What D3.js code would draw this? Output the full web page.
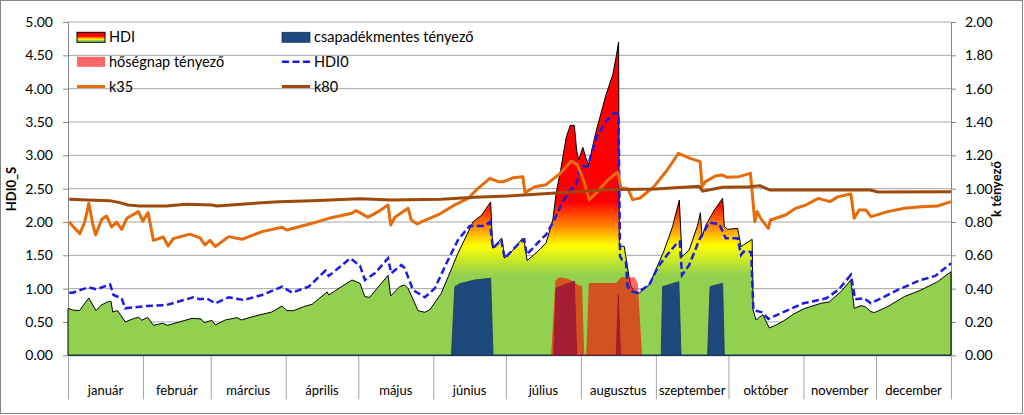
<!DOCTYPE html>
<html><head><meta charset="utf-8">
<script src="https://cdn.jsdelivr.net/npm/d3@7"></script>
<style>
html,body{margin:0;padding:0;background:#fff;}
svg{display:block;font-family:Lato,"Open Sans",sans-serif;}
</style></head><body>
<svg id="c" width="1024" height="415"></svg>
<script>
// ---------------- data ----------------
const monthNames = ["január","február","március","április","május","június","július","augusztus","szeptember","október","november","december"];
const monthStarts = [0,31,59,90,120,151,181,212,243,273,304,334,365];
const leftTicks = [0,0.5,1,1.5,2,2.5,3,3.5,4,4.5,5];
const rightTicks = [0,0.2,0.4,0.6,0.8,1.0,1.2,1.4,1.6,1.8,2.0];

// HDI (day of year, value)
const hdi = [[0.5,0.70],[1.9,0.68],[4.7,0.67],[8.6,0.86],[11.6,0.67],[13.6,0.75],[16.8,0.81],[17.8,0.81],[18.5,0.65],[20.5,0.67],[23.7,0.50],[27.4,0.555],[29.2,0.57],[30.6,0.525],[32.9,0.57],[35.3,0.45],[39.1,0.48],[41.2,0.45],[46,0.50],[51.3,0.555],[55,0.545],[56.3,0.49],[59.5,0.525],[60.9,0.455],[65,0.53],[69.9,0.565],[71.6,0.53],[77.4,0.59],[84.3,0.65],[88.5,0.74],[90.5,0.67],[93.3,0.67],[97.4,0.73],[100.9,0.765],[107.1,0.95],[107.8,0.905],[110.5,0.97],[117.4,1.13],[120.7,1.08],[122.7,0.88],[124.7,0.87],[132.3,1.20],[133.4,0.89],[137.1,1.03],[139.2,1.055],[140.6,1.00],[142.6,0.84],[144.7,0.67],[147.5,0.645],[149.5,0.68],[154.3,0.93],[161.2,1.53],[167.4,2.00],[170.9,2.10],[174.7,2.30],[175.6,1.605],[179.3,1.76],[180.5,1.46],[184,1.58],[188,1.76],[188.6,1.71],[189.8,1.42],[194.2,1.56],[197.6,1.685],[200.4,2.03],[201.7,2.41],[203.8,2.81],[205.9,3.26],[207.6,3.45],[209.3,3.45],[210.3,3.06],[211.1,2.93],[212.8,3.12],[214.1,2.96],[215.2,2.86],[218.3,3.36],[222.4,3.91],[225.2,4.21],[226.5,4.46],[227.6,4.70],[227.9,1.635],[229.9,1.635],[232,1.16],[232.7,1.035],[234.1,0.96],[236.2,0.935],[240.3,1.06],[243.9,1.36],[246.5,1.58],[249.9,1.93],[252.7,2.33],[253.8,1.48],[256.8,1.58],[260.3,1.955],[261.4,2.14],[262.1,1.78],[263.7,1.955],[267.2,2.18],[270.6,2.355],[271.3,1.93],[272.7,1.89],[276.8,1.905],[278.2,1.63],[279.2,1.655],[282.8,1.74],[283.2,0.68],[284.4,0.53],[287.2,0.61],[289.9,0.41],[292.7,0.455],[296,0.52],[300,0.62],[304.3,0.70],[311.2,0.78],[314.6,0.80],[319.5,0.955],[323.6,1.13],[325,0.705],[327.8,0.745],[329.5,0.73],[331.9,0.655],[333.3,0.64],[338.8,0.73],[345.7,0.88],[352.6,0.98],[359.5,1.105],[365,1.255]];

// HDI0 (day, value)
const hdi0 = [[0.5,0.94],[2,0.94],[8.5,1.02],[11.8,0.99],[17.4,1.065],[18.8,0.905],[22.2,0.855],[23.6,0.705],[32.5,0.74],[40.8,0.755],[51.8,0.87],[54.6,0.84],[57.3,0.855],[60.9,0.78],[66.4,0.87],[72.6,0.83],[80.2,0.905],[88.5,1.03],[92.6,0.94],[99.5,1.03],[106.4,1.27],[107.8,1.19],[116.7,1.455],[120.7,1.345],[122.7,1.13],[126.8,1.23],[132.3,1.455],[133.6,1.23],[137.8,1.355],[139.2,1.305],[142.6,0.98],[147.5,0.87],[151.6,1.005],[157.1,1.43],[161.2,1.73],[166,1.94],[172.1,1.94],[174.3,2.00],[175.7,1.605],[179.1,1.73],[180.5,1.455],[186.6,1.685],[188.6,1.735],[189.6,1.51],[194.8,1.71],[197.6,1.81],[201,2.03],[204.5,2.31],[207.9,2.485],[210,2.56],[212.1,2.835],[214.8,2.835],[218.3,3.26],[222.4,3.51],[225.8,3.635],[227.6,3.62],[228.2,1.485],[229,1.435],[230.6,1.41],[231.3,1.035],[232.7,0.96],[235.4,0.935],[240.3,1.06],[243.9,1.33],[247.1,1.48],[251.9,1.69],[252.9,1.705],[253.8,1.205],[256.8,1.355],[260.9,1.73],[265,1.99],[269.2,1.97],[271.9,1.755],[276.8,1.755],[278.2,1.505],[279.2,1.555],[282.4,1.55],[283.3,0.68],[286.8,0.645],[289.5,0.545],[292.7,0.6],[304,0.78],[313.4,0.855],[318.4,0.98],[323.6,1.205],[325.4,0.84],[329.1,0.855],[331.9,0.78],[343,0.98],[352,1.125],[358.5,1.19],[365,1.38]];

// k35 (day, value on right axis)
const k35 = [[0.5,0.80],[1.9,0.776],[4.9,0.73],[6.9,0.80],[8.6,0.912],[10.2,0.79],[11.4,0.722],[13.9,0.815],[15.9,0.836],[18,0.77],[20.1,0.80],[22.2,0.755],[24.3,0.822],[29.1,0.862],[30.9,0.805],[33.1,0.856],[35.3,0.69],[39.4,0.71],[41.4,0.656],[43.5,0.70],[50.4,0.727],[54.6,0.705],[56.6,0.662],[58.7,0.69],[60.9,0.652],[66.4,0.712],[71.9,0.696],[80.2,0.742],[88.5,0.768],[90.5,0.752],[100.9,0.792],[107.8,0.822],[117.4,0.852],[118.8,0.868],[120.7,0.856],[123.9,0.828],[128.2,0.862],[132.3,0.902],[133.4,0.782],[135.1,0.828],[140.6,0.882],[141.9,0.812],[144.4,0.788],[146,0.80],[152.9,0.842],[159.8,0.902],[165.4,0.942],[169.5,1.002],[174.4,1.062],[177.8,1.042],[180,1.042],[184.1,1.066],[188,1.072],[188.9,0.975],[193,1.012],[197.6,1.024],[203.2,1.088],[208,1.165],[210.5,1.144],[212.8,1.064],[215.5,0.934],[219.4,0.99],[223,1.05],[227.3,1.10],[228.5,1.005],[231.4,1.0],[233.4,0.934],[236.5,0.944],[242.2,1.012],[247.7,1.112],[252.3,1.212],[257.2,1.182],[261.3,1.162],[262.1,1.012],[263.5,1.042],[267.6,1.076],[270.4,1.082],[272.5,1.068],[277.3,1.072],[282.1,1.092],[283.9,0.802],[284.9,0.862],[286.3,0.822],[289.5,0.762],[290.4,0.812],[296.6,0.842],[300.8,0.882],[305,0.902],[310.2,0.942],[314.9,0.922],[318.4,0.952],[323.6,0.968],[325,0.822],[327,0.872],[329.8,0.872],[331.9,0.832],[338.8,0.862],[345.7,0.882],[352.6,0.892],[359.5,0.896],[365,0.922]];

// k80 (day, value on right axis)
const k80 = [[0.5,0.936],[8,0.932],[17.2,0.928],[21.4,0.916],[24.8,0.902],[29.6,0.896],[40.6,0.896],[48.9,0.906],[59.5,0.902],[61.5,0.896],[73.2,0.908],[87,0.922],[100.9,0.928],[120.7,0.94],[133.6,0.932],[154.3,0.936],[168.1,0.948],[181.9,0.956],[201.7,0.974],[222.4,0.994],[243,0.998],[260.9,1.014],[262.4,0.985],[270.6,1.008],[281.6,1.012],[286,1.018],[290,0.992],[315,0.992],[331.5,0.992],[335,0.98],[365,0.982]];

// csapadékmentes tényező (day, value)
const dry = [[0,0],[158.5,0],[159.9,1.03],[162,1.075],[168.1,1.13],[174.7,1.155],[175.7,0],[200.8,0],[201.7,1.01],[209.3,1.11],[210.3,0],[226.6,0],[227.5,0.91],[228.4,0],[245.2,0],[245.8,1.03],[252.5,1.105],[253.4,0],[264.4,0],[265.4,1.03],[270.6,1.08],[271.3,0],[365,0]];

// hőségnap tényező (day, value)
const heat = [[0,0],[199.7,0],[201.5,1.12],[203.1,1.17],[206.6,1.15],[208.7,1.11],[210.8,1.06],[212.5,1.035],[213.4,0],[214.2,0],[215.3,1.085],[226.6,1.085],[228.6,1.17],[234.1,1.17],[235.5,1.085],[237.3,0],[365,0]];

// ---------------- drawing ----------------
const svg = d3.select("#c");
const L = 68, R = 951, T = 22, B = 355.3;
const x = d3.scaleLinear().domain([0,365]).range([L,R]);
const yL = d3.scaleLinear().domain([0,5]).range([B,T]);
const yR = d3.scaleLinear().domain([0,2]).range([B,T]);
const fmt = d3.format(".2f");

svg.append("rect").attr("x",0.5).attr("y",0.5).attr("width",1022).attr("height",413)
  .attr("fill","#fff").attr("stroke","#868686");

const defs = svg.append("defs");
const g1 = defs.append("linearGradient").attr("id","hdiGrad").attr("gradientUnits","userSpaceOnUse")
  .attr("x1",0).attr("x2",0).attr("y1",yL(0)).attr("y2",yL(4.7));
[[0,"#92D050"],[1.2,"#92D050"],[1.65,"#FFFF00"],[1.92,"#FF8C00"],[2.3,"#FF0000"],[4.7,"#FF0000"]]
  .forEach(([v,c])=>g1.append("stop").attr("offset",v/4.7).attr("stop-color",c));
const g2 = defs.append("linearGradient").attr("id","legGrad").attr("x1",0).attr("x2",0).attr("y1",0).attr("y2",1);
[[0,"#FF0000"],[0.4,"#FF0000"],[0.55,"#FF8C00"],[0.7,"#FFFF00"],[0.8,"#92D050"],[1,"#92D050"]]
  .forEach(([o,c])=>g2.append("stop").attr("offset",o).attr("stop-color",c));

// gridlines
svg.append("g").selectAll("line").data(leftTicks.slice(1)).join("line")
  .attr("x1",L).attr("x2",R).attr("y1",d=>yL(d)).attr("y2",d=>yL(d))
  .attr("stroke","#A6A6A6").attr("stroke-width",1);

// axes
const axL = svg.append("g").attr("transform",`translate(${L},0)`)
  .call(d3.axisLeft(yL).tickValues(leftTicks).tickFormat(fmt).tickSize(5).tickSizeOuter(0).tickPadding(10));
const axR = svg.append("g").attr("transform",`translate(${R},0)`)
  .call(d3.axisRight(yR).tickValues(rightTicks).tickFormat(fmt).tickSize(5).tickSizeOuter(0).tickPadding(9));
[axL,axR].forEach(a=>{
  a.selectAll("path,line").attr("stroke","#868686");
  a.selectAll("text").attr("font-size",14).attr("fill","#000").attr("font-family","Lato");
});

const axB = svg.append("g").attr("transform",`translate(0,${B})`)
  .call(d3.axisBottom(x).tickValues(monthStarts).tickFormat("").tickSize(44).tickSizeOuter(0));
axB.selectAll("path,line").attr("stroke","#A6A6A6");
svg.append("g").selectAll("text").data(monthNames).join("text")
  .attr("x",(d,i)=>x((monthStarts[i]+monthStarts[i+1])/2)).attr("y",395)
  .attr("text-anchor","middle").attr("font-size",13).attr("fill","#000").text(d=>d);

// HDI area
const area = d3.area().x(d=>x(d[0])).y0(yL(0)).y1(d=>yL(d[1]));
const hdiClosed = [[hdi[0][0]-0.5,0]].concat([[0,hdi[0][1]]],hdi,[[365,0]]);
svg.append("path").datum([[0,hdi[0][1]]].concat(hdi))
  .attr("d",d=>area(d)).attr("fill","url(#hdiGrad)").attr("stroke","#000").attr("stroke-width",1);

// csapadékmentes
svg.append("path").datum(dry).attr("d",area).attr("fill","#1F497D")
  .attr("stroke","#17365D").attr("stroke-width",0.8);
// hőségnap
svg.append("path").datum(heat).attr("d",area).attr("fill","rgba(255,0,0,0.6)").attr("stroke","none");

// lines
const lineL = d3.line().x(d=>x(d[0])).y(d=>yL(d[1]));
const lineR = d3.line().x(d=>x(d[0])).y(d=>yR(d[1]));
svg.append("path").datum(hdi0).attr("d",lineL).attr("fill","none")
  .attr("stroke","#1C1CE3").attr("stroke-width",2.5).attr("stroke-dasharray","7,3.5");
svg.append("path").datum(k35).attr("d",lineR).attr("fill","none")
  .attr("stroke","#E46C0A").attr("stroke-width",3).attr("stroke-linejoin","round");
svg.append("path").datum(k80).attr("d",lineR).attr("fill","none")
  .attr("stroke","#9C4A0C").attr("stroke-width",3).attr("stroke-linejoin","round");

// axis titles
svg.append("text").attr("transform","translate(16,189) rotate(-90)").attr("text-anchor","middle")
  .attr("font-size",13).attr("font-weight","bold").text("HDI0_S");
svg.append("text").attr("transform","translate(1001,189) rotate(-90)").attr("text-anchor","middle")
  .attr("font-size",13).attr("font-weight","bold").text("k tényező");

// legend
const leg = svg.append("g").attr("font-size",14.5);
const items = [
  {t:"HDI",c:0,r:0,k:"grad"},{t:"csapadékmentes tényező",c:1,r:0,k:"blue"},
  {t:"hőségnap tényező",c:0,r:1,k:"heat"},{t:"HDI0",c:1,r:1,k:"dash"},
  {t:"k35",c:0,r:2,k:"k35"},{t:"k80",c:1,r:2,k:"k80"}];
const colX = [77,282], rowY = [37.3,61.8,86.5];
items.forEach(it=>{
  const gx = colX[it.c], gy = rowY[it.r];
  if(it.k==="grad") leg.append("rect").attr("x",gx).attr("y",gy-5).attr("width",28).attr("height",10).attr("fill","url(#legGrad)").attr("stroke","#000").attr("stroke-width",1);
  if(it.k==="blue") leg.append("rect").attr("x",gx).attr("y",gy-5).attr("width",28).attr("height",10).attr("fill","#1F497D").attr("stroke","#17365D").attr("stroke-width",0.8);
  if(it.k==="heat") leg.append("rect").attr("x",gx).attr("y",gy-5).attr("width",28).attr("height",10).attr("fill","rgba(255,0,0,0.6)");
  if(it.k==="dash") leg.append("line").attr("x1",gx).attr("x2",gx+28).attr("y1",gy).attr("y2",gy).attr("stroke","#1C1CE3").attr("stroke-width",2.5).attr("stroke-dasharray","7,3.5");
  if(it.k==="k35") leg.append("line").attr("x1",gx).attr("x2",gx+28).attr("y1",gy).attr("y2",gy).attr("stroke","#E46C0A").attr("stroke-width",3);
  if(it.k==="k80") leg.append("line").attr("x1",gx).attr("x2",gx+28).attr("y1",gy).attr("y2",gy).attr("stroke","#9C4A0C").attr("stroke-width",3);
  leg.append("text").attr("x",gx+32).attr("y",gy).attr("dy","0.35em").text(it.t);
});
</script></body></html>
